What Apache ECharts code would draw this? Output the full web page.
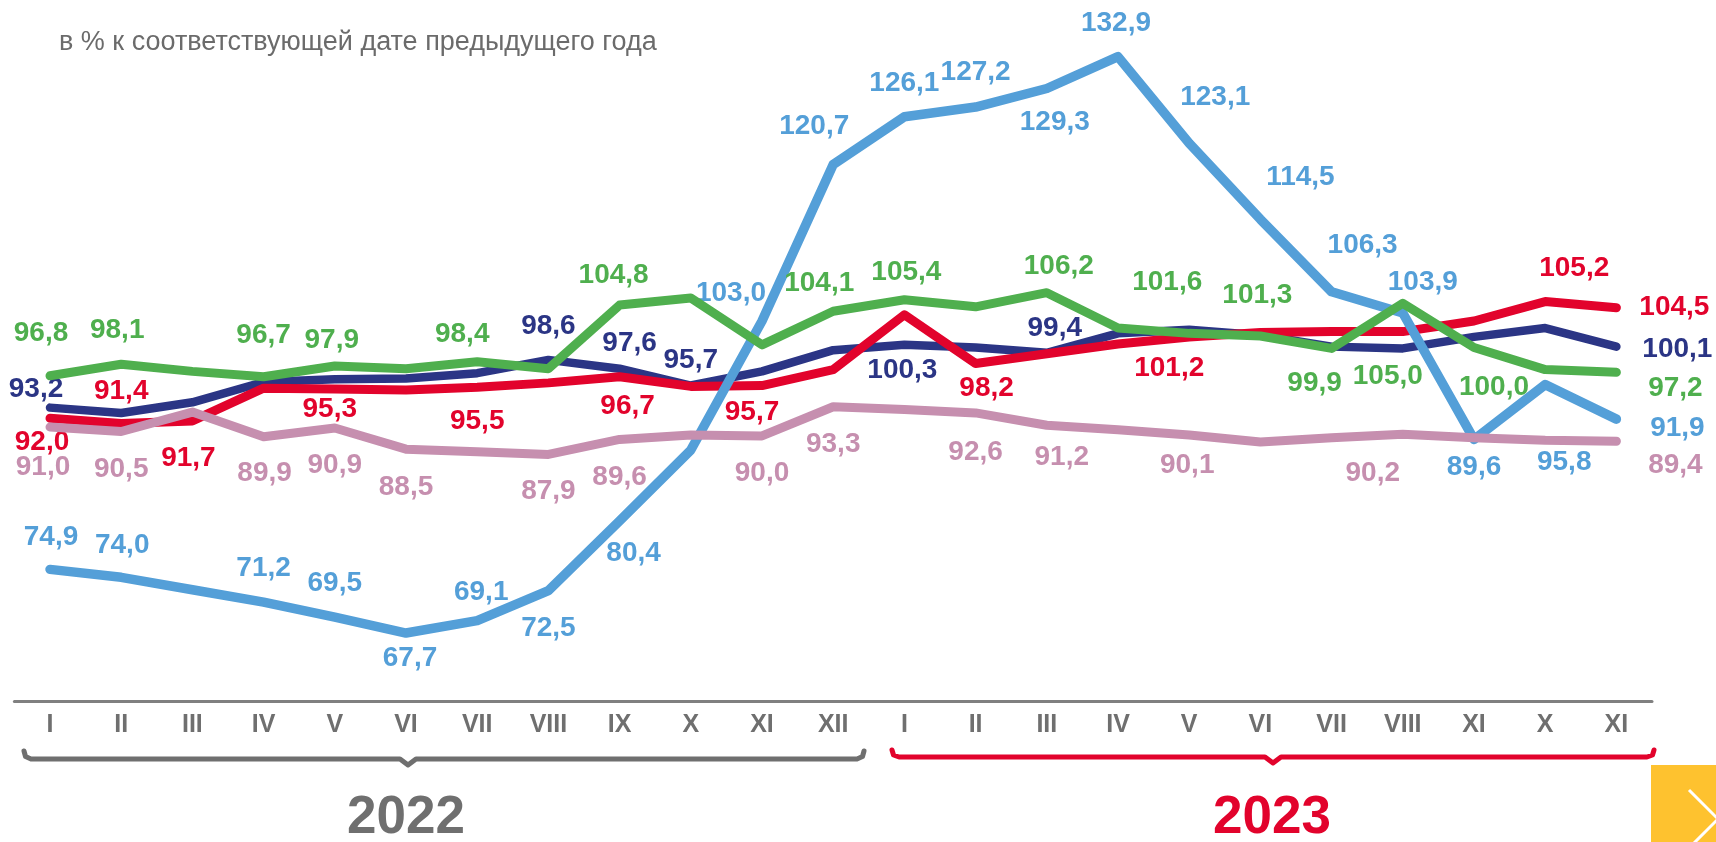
<!DOCTYPE html>
<html>
<head>
<meta charset="utf-8">
<script src="https://cdn.jsdelivr.net/npm/echarts@6/dist/echarts.min.js"></script>
<style>
html,body{margin:0;padding:0;background:#fff;}
#chart{width:1716px;height:842px;}
</style>
</head>
<body>
<div id="chart"></div>
<script>
// ---- data ----
const categories = ['I','II','III','IV','V','VI','VII','VIII','IX','X','XI','XII','I','II','III','IV','V','VI','VII','VIII','XI','X','XI'];
const years = ['2022', '2023'];
const titleText = 'в % к соответствующей дате предыдущего года';

const blueValues  = [74.9, 74.0, 72.6, 71.2, 69.5, 67.7, 69.1, 72.5, 80.4, 88.4, 103.0, 120.7, 126.1, 127.2, 129.3, 132.9, 123.1, 114.5, 106.3, 103.9, 89.6, 95.8, 91.9];
const navyValues  = [93.2, 92.6, 93.8, 96.1, 96.4, 96.5, 97.1, 98.6, 97.6, 95.7, 97.3, 99.7, 100.3, 100.0, 99.4, 101.6, 102.0, 101.4, 100.1, 99.9, 101.2, 102.2, 100.1];
const redValues   = [92.0, 91.4, 91.7, 95.4, 95.3, 95.2, 95.5, 96.0, 96.7, 95.6, 95.7, 97.5, 103.7, 98.2, 99.3, 100.4, 101.2, 101.7, 101.8, 101.8, 103.0, 105.2, 104.5];
const greenValues = [96.8, 98.1, 97.3, 96.7, 97.9, 97.6, 98.4, 97.6, 104.8, 105.6, 100.3, 104.1, 105.4, 104.6, 106.2, 102.2, 101.6, 101.3, 99.9, 105.0, 100.0, 97.5, 97.2];
const pinkValues  = [91.0, 90.5, 92.7, 89.9, 90.9, 88.5, 88.2, 87.9, 89.6, 90.1, 90.0, 93.3, 93.0, 92.6, 91.2, 90.7, 90.1, 89.3, 89.8, 90.2, 89.8, 89.5, 89.4];

// ---- label placement (layout only: pixel offsets from the point) ----
const blueLabelOffsets = {0:[1,-32],1:[1,-32],3:[0,-34],4:[0,-34],5:[4,25],6:[4,-28],7:[0,38],8:[14,33],10:[-31,-28],11:[-19,-38],12:[0,-34],13:[0,-35],14:[8,34],15:[-2,-33],16:[26,-46],17:[40,-42],18:[31,-47],19:[20,-31],20:[0,28],21:[19,78],22:[61,9]};
const navyLabelOffsets = {0:[-14,-18],7:[0,-34],8:[10,-25],9:[0,-25],12:[-2,25],14:[8,-25],22:[61,3]};
const redLabelOffsets  = {0:[-8,24],1:[0,-32],2:[-4,37],4:[-5,20],6:[0,34],8:[8,30],10:[-10,27],13:[11,25],16:[-20,31],21:[29,-33],22:[58,0]};
const greenLabelOffsets= {0:[-9,-43],1:[-4,-34],3:[0,-41],4:[-3,-26],6:[-15,-27],8:[-6,-30],11:[-14,-28],12:[2,-27],14:[12,-26],16:[-22,-51],17:[-3,-41],18:[-17,35],19:[-15,73],20:[20,40],22:[59,16]};
const pinkLabelOffsets = {0:[-7,40],1:[0,38],3:[1,36],4:[0,37],5:[0,38],7:[0,37],8:[0,38],10:[0,37],11:[0,38],13:[0,39],14:[15,32],16:[-2,30],19:[-30,39],22:[59,24]};

const FONT = '"Liberation Sans", Arial, sans-serif';

function buildData(values, offsets) {
  return values.map((v, i) => {
    const o = offsets[i];
    return o
      ? { value: v, label: { show: true, position: [o[0] + 0.5, o[1] + 0.5], align: 'center', verticalAlign: 'middle' } }
      : { value: v, label: { show: false } };
  });
}

function makeSeries(name, values, offsets, color, width, z) {
  return {
    name: name,
    type: 'line',
    data: buildData(values, offsets),
    symbol: 'circle',
    symbolSize: 1,
    showSymbol: true,
    showAllSymbol: true,
    z: z,
    silent: true,
    lineStyle: { width: width, color: color, cap: 'round', join: 'round' },
    itemStyle: { color: color },
    label: {
      show: false,
      fontSize: 28,
      fontWeight: 'bold',
      fontFamily: FONT,
      color: color,
      align: 'center',
      verticalAlign: 'middle',
      formatter: p => p.value.toFixed(1).replace('.', ',')
    }
  };
}

const chart = echarts.init(document.getElementById('chart'), null, { renderer: 'canvas' });

const option = {
  animation: false,
  backgroundColor: '#ffffff',
  grid: { left: 14.4, right: 64, top: 11.6, bottom: 140.9, containLabel: false },
  xAxis: {
    type: 'category',
    data: categories,
    boundaryGap: true,
    axisLine: { lineStyle: { color: '#808080', width: 3 } },
    axisTick: { inside: true, alignWithLabel: true, length: 6, lineStyle: { color: '#808080', width: 2 } },
    axisLabel: { interval: 0, margin: 12, fontSize: 25, fontWeight: 'bold', color: '#6f6f6f', fontFamily: FONT },
    splitLine: { show: false }
  },
  yAxis: {
    type: 'value',
    min: 60,
    max: 138,
    show: false,
    splitLine: { show: false }
  },
  series: [
    makeSeries('navy', navyValues, navyLabelOffsets, '#2b3585', 8.5, 2),
    makeSeries('red', redValues, redLabelOffsets, '#e2032c', 9, 3),
    makeSeries('blue', blueValues, blueLabelOffsets, '#549fd8', 9.5, 4),
    makeSeries('green', greenValues, greenLabelOffsets, '#4faf4e', 9, 5),
    makeSeries('pink', pinkValues, pinkLabelOffsets, '#c68faf', 9, 6)
  ],
  graphic: [
    { type: 'text', x: 59, y: 42.5, style: { text: titleText, font: '27px ' + FONT, fill: '#6b6b6b', textVerticalAlign: 'middle' } },
    { type: 'polyline', shape: { points: [[24,751],[25.5,756.5],[31,759],[400,759],[408,765],[416,759],[857,759],[862.5,756.5],[864,751]] },
      style: { stroke: '#6f6f6f', lineWidth: 5, fill: null, lineJoin: 'round', lineCap: 'round' } },
    { type: 'polyline', shape: { points: [[892,750],[893.5,755],[899,757],[1265,757],[1273,763],[1281,757],[1647,757],[1652.5,755],[1654,750]] },
      style: { stroke: '#e2032c', lineWidth: 5, fill: null, lineJoin: 'round', lineCap: 'round' } },
    { type: 'text', x: 406, y: 818.5, style: { text: years[0], font: 'bold 53px ' + FONT, fill: '#6f6f6f', textAlign: 'center', textVerticalAlign: 'middle' } },
    { type: 'text', x: 1272, y: 818.5, style: { text: years[1], font: 'bold 53px ' + FONT, fill: '#e2032c', textAlign: 'center', textVerticalAlign: 'middle' } },
    { type: 'rect', shape: { x: 1651, y: 765, width: 65, height: 77 }, style: { fill: '#fec22f' } },
    { type: 'polyline', shape: { points: [[1689, 790], [1718, 819], [1694, 843]] }, style: { stroke: '#ffffff', lineWidth: 3, fill: null } }
  ]
};

chart.setOption(option);
</script>
</body>
</html>
